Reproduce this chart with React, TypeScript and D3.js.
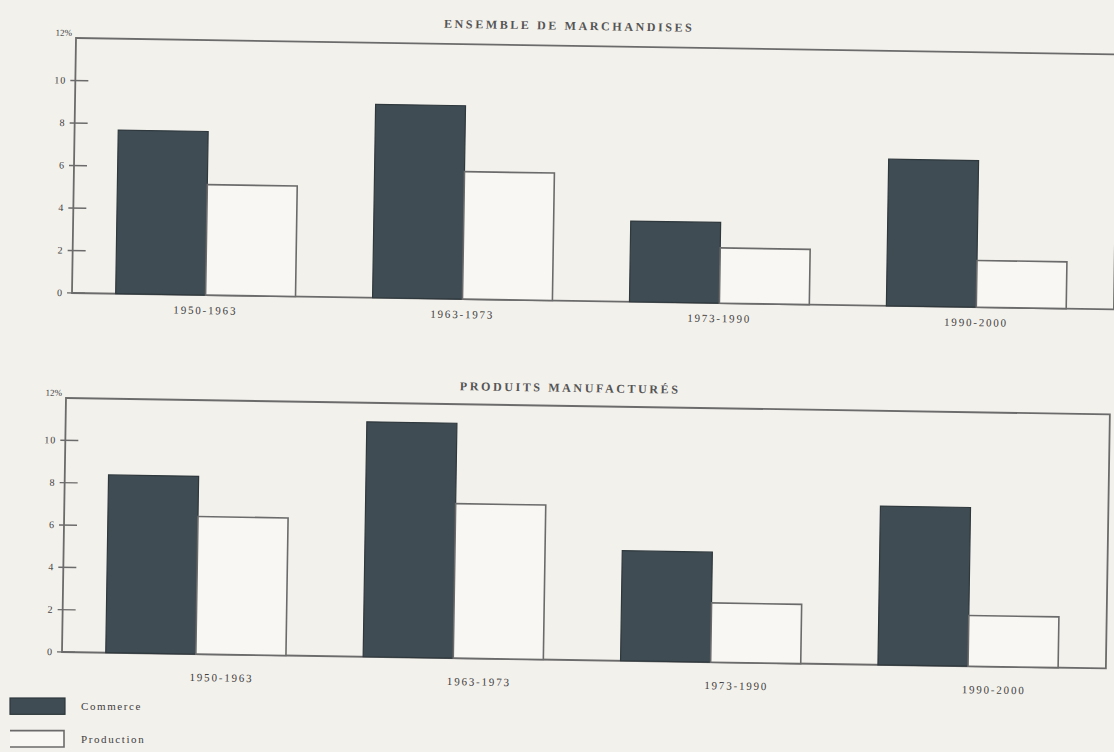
import React, { useEffect, useRef } from 'react';
import * as d3 from 'd3';

const periodsTop = ['1950-1963', '1963-1973', '1973-1990', '1990-2000'];
const periodsBottom = ['1950-1963', '1963-1973', '1973-1990', '1990-2000'];

const commerceTop = [7.7, 9.1, 3.8, 6.9];
const productionTop = [5.2, 6.0, 2.6, 2.2];

const commerceBottom = [8.4, 11.1, 5.2, 7.5];
const productionBottom = [6.5, 7.3, 2.8, 2.4];

const yTicks = [0, 2, 4, 6, 8, 10];
const seriesNames = ['Commerce', 'Production'];

const PAPER = '#f3f1ec';
const DARK = '#3f4c53';
const LINE = '#6b6b6b';
const INK = '#404040';
const FONT = '"Liberation Serif", "DejaVu Serif", serif';

interface PanelSpec {
  title: string;
  periods: string[];
  commerce: number[];
  production: number[];
  x0: number;
  x1: number;
  yTop: number;
  yBottom: number;
  titleX: number;
  titleY: number;
  labelDx: number;
  labelDy: number;
  angle: number;
}

const App: React.FC = () => {
  const svgRef = useRef<SVGSVGElement | null>(null);

  useEffect(() => {
    const svg = d3.select(svgRef.current);
    svg.selectAll('*').remove();

    svg.append('rect')
      .attr('width', 1114)
      .attr('height', 752)
      .attr('fill', PAPER);

    const panels: PanelSpec[] = [
      {
        title: 'ENSEMBLE DE MARCHANDISES',
        periods: periodsTop,
        commerce: commerceTop,
        production: productionTop,
        x0: 72, x1: 1114, yTop: 38, yBottom: 293,
        titleX: 565, titleY: 22, labelDx: 0, labelDy: 19, angle: 0.9
      },
      {
        title: 'PRODUITS MANUFACTURÉS',
        periods: periodsBottom,
        commerce: commerceBottom,
        production: productionBottom,
        x0: 62, x1: 1106, yTop: 398, yBottom: 652,
        titleX: 566, titleY: 384, labelDx: 26, labelDy: 27, angle: 0.9
      }
    ];

    panels.forEach(p => {
      const g = svg.append('g')
        .attr('transform', `rotate(${p.angle}, ${p.x0}, ${p.yBottom})`);

      const x = d3.scaleBand<string>()
        .domain(p.periods)
        .range([p.x0, p.x1 - 4])
        .paddingInner(0.3)
        .paddingOuter(0.17);

      const sub = d3.scaleBand<string>()
        .domain(seriesNames)
        .range([0, x.bandwidth()])
        .padding(0);

      const y = d3.scaleLinear()
        .domain([0, 12])
        .range([p.yBottom, p.yTop]);

      // title
      g.append('text')
        .attr('x', p.titleX)
        .attr('y', p.titleY)
        .attr('text-anchor', 'middle')
        .attr('font-family', FONT)
        .attr('font-size', 12)
        .attr('font-weight', 'bold')
        .attr('letter-spacing', 2.6)
        .attr('fill', '#555')
        .text(p.title);

      // frame
      g.append('rect')
        .attr('x', p.x0)
        .attr('y', y(12))
        .attr('width', p.x1 - p.x0)
        .attr('height', y(0) - y(12))
        .attr('fill', 'none')
        .attr('stroke', LINE)
        .attr('stroke-width', 1.8);

      // y ticks
      const ticks = g.append('g');
      ticks.selectAll('line')
        .data(yTicks)
        .enter().append('line')
        .attr('x1', p.x0 - 5)
        .attr('x2', p.x0 + 13)
        .attr('y1', d => y(d))
        .attr('y2', d => y(d))
        .attr('stroke', LINE)
        .attr('stroke-width', 1.4);
      ticks.selectAll('text')
        .data(yTicks)
        .enter().append('text')
        .attr('x', p.x0 - 9)
        .attr('y', d => y(d))
        .attr('dy', '0.32em')
        .attr('text-anchor', 'end')
        .attr('font-family', FONT)
        .attr('font-size', 10)
        .attr('letter-spacing', 1)
        .attr('fill', INK)
        .text(d => String(d));
      g.append('text')
        .attr('x', p.x0 - 4)
        .attr('y', y(12) - 2)
        .attr('text-anchor', 'end')
        .attr('font-family', FONT)
        .attr('font-size', 9)
        .attr('fill', INK)
        .text('12%');

      // bars
      const groups = g.selectAll('.grp')
        .data(p.periods)
        .enter().append('g')
        .attr('class', 'grp')
        .attr('transform', d => `translate(${x(d)}, 0)`);

      groups.append('rect')
        .attr('x', sub('Commerce')!)
        .attr('y', (_, i) => y(p.commerce[i]))
        .attr('width', sub.bandwidth())
        .attr('height', (_, i) => y(0) - y(p.commerce[i]))
        .attr('fill', DARK)
        .attr('stroke', '#2e383d')
        .attr('stroke-width', 1.2);

      groups.append('rect')
        .attr('x', sub('Production')!)
        .attr('y', (_, i) => y(p.production[i]))
        .attr('width', sub.bandwidth())
        .attr('height', (_, i) => y(0) - y(p.production[i]))
        .attr('fill', '#f8f7f3')
        .attr('stroke', LINE)
        .attr('stroke-width', 1.6);

      groups.append('text')
        .attr('x', x.bandwidth() / 2 + p.labelDx)
        .attr('y', y(0) + p.labelDy)
        .attr('text-anchor', 'middle')
        .attr('font-family', FONT)
        .attr('font-size', 11)
        .attr('letter-spacing', 1.8)
        .attr('fill', INK)
        .text(d => d);
    });

    // legend
    const legend = svg.append('g');
    const legendY = d3.scaleBand<string>()
      .domain(seriesNames)
      .range([698, 747])
      .paddingInner(0.5);

    legend.append('rect')
      .attr('x', 10)
      .attr('y', legendY('Commerce')!)
      .attr('width', 55)
      .attr('height', legendY.bandwidth())
      .attr('fill', DARK)
      .attr('stroke', '#2e383d')
      .attr('stroke-width', 1.2);

    const py = legendY('Production')!;
    legend.append('path')
      .attr('d', `M10,${py}H64V${py + legendY.bandwidth()}H10`)
      .attr('fill', '#f8f7f3')
      .attr('stroke', LINE)
      .attr('stroke-width', 1.6);

    legend.selectAll('text')
      .data(seriesNames)
      .enter().append('text')
      .attr('x', 81)
      .attr('y', d => legendY(d)! + legendY.bandwidth() / 2)
      .attr('dy', '0.35em')
      .attr('font-family', FONT)
      .attr('font-size', 11)
      .attr('letter-spacing', 1.6)
      .attr('fill', INK)
      .text(d => d);
  }, []);

  return (
    <svg
      ref={svgRef}
      width={1114}
      height={752}
      style={{ position: 'absolute', left: 0, top: 0, display: 'block' }}
    />
  );
};

export default App;
